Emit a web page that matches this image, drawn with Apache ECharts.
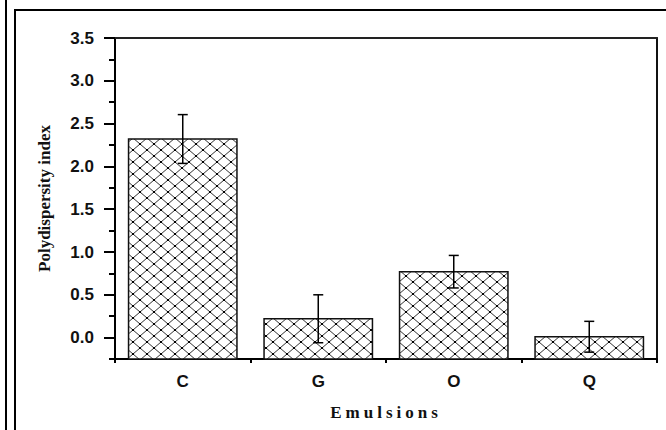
<!DOCTYPE html>
<html>
<head>
<meta charset="utf-8">
<script src="https://cdn.jsdelivr.net/npm/echarts@6/dist/echarts.min.js"></script>
<style>
html,body{margin:0;padding:0;background:#fff;}
#chart{width:666px;height:430px;}
</style>
</head>
<body>
<div id="chart"></div>
<script>
const categories = ['C', 'G', 'O', 'Q'];
const pdiValues = [2.32, 0.22, 0.77, 0.01];
const pdiErrors = [0.285, 0.28, 0.19, 0.18];
const yMajorTicks = [0, 0.5, 1.0, 1.5, 2.0, 2.5, 3.0, 3.5];
const yMin = -0.25;
const yMax = 3.5;

function makeHatch() {
  const w = 14, h = 12;
  const c = document.createElement('canvas');
  c.width = w; c.height = h;
  const g = c.getContext('2d');
  g.fillStyle = '#fff';
  g.fillRect(0, 0, w, h);
  g.strokeStyle = '#333';
  g.lineWidth = 1;
  g.beginPath();
  g.moveTo(-w, -h); g.lineTo(2 * w, 2 * h);
  g.moveTo(2 * w, -h); g.lineTo(-w, 2 * h);
  g.stroke();
  g.fillStyle = '#000';
  g.fillRect(w / 2 - 1, h / 2 - 1, 2, 2);
  g.fillRect(-1, -1, 2, 2); g.fillRect(w - 1, -1, 2, 2);
  g.fillRect(-1, h - 1, 2, 2); g.fillRect(w - 1, h - 1, 2, 2);
  return c;
}
const hatch = {image: makeHatch(), repeat: 'repeat'};

const chart = echarts.init(document.getElementById('chart'), null, {renderer: 'svg'});
const labelFont = {fontFamily: 'Liberation Sans, Arial, sans-serif', fontWeight: 'bold', fontSize: 17, color: '#111'};
const nameFont = {fontFamily: 'Liberation Serif, Times New Roman, serif', fontWeight: 'bold', fontSize: 17, color: '#111'};

chart.setOption({
  animation: false,
  backgroundColor: '#fff',
  grid: {left: 115, right: 9, top: 38, bottom: 71, containLabel: false},
  graphic: [
    {type: 'line', shape: {x1: 6, y1: 0, x2: 6, y2: 430}, style: {stroke: '#000', lineWidth: 2}},
    {type: 'line', shape: {x1: 15, y1: 10, x2: 15, y2: 430}, style: {stroke: '#000', lineWidth: 2}},
    {type: 'line', shape: {x1: 14, y1: 10, x2: 666, y2: 10}, style: {stroke: '#000', lineWidth: 2}}
  ],
  xAxis: [
    {
      type: 'category', data: categories, position: 'bottom',
      name: 'Emulsions', nameLocation: 'middle', nameGap: 45,
      nameTextStyle: nameFont,
      axisLine: {onZero: false, lineStyle: {color: '#000', width: 2}},
      axisTick: {alignWithLabel: true, length: 10, lineStyle: {color: '#000', width: 2}},
      axisLabel: Object.assign({margin: 14}, labelFont),
      splitLine: {show: false}
    },
    {
      type: 'category', data: categories, position: 'bottom',
      axisLine: {show: false, onZero: false},
      axisTick: {show: true, length: 4, lineStyle: {color: '#000', width: 2}},
      axisLabel: {show: false},
      splitLine: {show: false}
    },
    {
      type: 'category', data: categories, position: 'top',
      axisLine: {onZero: false, lineStyle: {color: '#222', width: 2}},
      axisTick: {show: false}, axisLabel: {show: false}, splitLine: {show: false}
    }
  ],
  yAxis: [
    {
      type: 'value', min: yMin, max: yMax, interval: 0.25, position: 'left',
      name: 'Polydispersity index', nameLocation: 'middle', nameGap: 62,
      nameTextStyle: nameFont,
      axisLine: {show: true, lineStyle: {color: '#000', width: 2}},
      axisTick: {show: true, length: 11, customValues: yMajorTicks, lineStyle: {color: '#000', width: 2}},
      axisLabel: Object.assign({margin: 21, customValues: yMajorTicks, formatter: v => v.toFixed(1)}, labelFont),
      splitLine: {show: false}
    },
    {
      type: 'value', min: yMin, max: yMax, interval: 0.25, position: 'left',
      axisLine: {show: false},
      axisTick: {show: true, length: 6, lineStyle: {color: '#000', width: 2}},
      axisLabel: {show: false},
      splitLine: {show: false}
    },
    {
      type: 'value', min: yMin, max: yMax, interval: 0.25, position: 'right',
      axisLine: {show: true, lineStyle: {color: '#111', width: 2}},
      axisTick: {show: false}, axisLabel: {show: false}, splitLine: {show: false}
    }
  ],
  series: [
    {
      type: 'custom', xAxisIndex: 0, yAxisIndex: 0, z: 3,
      data: categories.map((c, i) => [i, pdiValues[i]]),
      encode: {x: 0, y: 1},
      renderItem: function (params, api) {
        const x = api.value(0), v = api.value(1);
        const topP = api.coord([x, v]);
        const baseP = api.coord([x, yMin]);
        const bw = api.size([1, 0])[0] * 0.8;
        return {
          type: 'rect',
          shape: {x: topP[0] - bw / 2, y: topP[1], width: bw, height: baseP[1] - topP[1]},
          style: {fill: hatch, stroke: '#111', lineWidth: 1.5}
        };
      }
    },
    {
      type: 'custom', xAxisIndex: 0, yAxisIndex: 0, z: 5,
      data: categories.map((c, i) => [i, pdiValues[i], pdiErrors[i]]),
      encode: {x: 0, y: 1},
      renderItem: function (params, api) {
        const x = api.value(0), v = api.value(1), e = api.value(2);
        const top = api.coord([x, v + e]);
        const bot = api.coord([x, v - e]);
        const hw = 5;
        const st = {stroke: '#000', lineWidth: 1.5};
        return {type: 'group', children: [
          {type: 'line', shape: {x1: top[0], y1: top[1], x2: bot[0], y2: bot[1]}, style: st},
          {type: 'line', shape: {x1: top[0] - hw, y1: top[1], x2: top[0] + hw, y2: top[1]}, style: st},
          {type: 'line', shape: {x1: bot[0] - hw, y1: bot[1], x2: bot[0] + hw, y2: bot[1]}, style: st}
        ]};
      }
    }
  ]
});

function spaceTitle() {
  document.querySelectorAll('#chart svg text').forEach(function (t) {
    if (t.textContent === 'Emulsions') {
      t.style.letterSpacing = '4px';
    }
  });
}
spaceTitle();
chart.on('finished', spaceTitle);
</script>
</body>
</html>
